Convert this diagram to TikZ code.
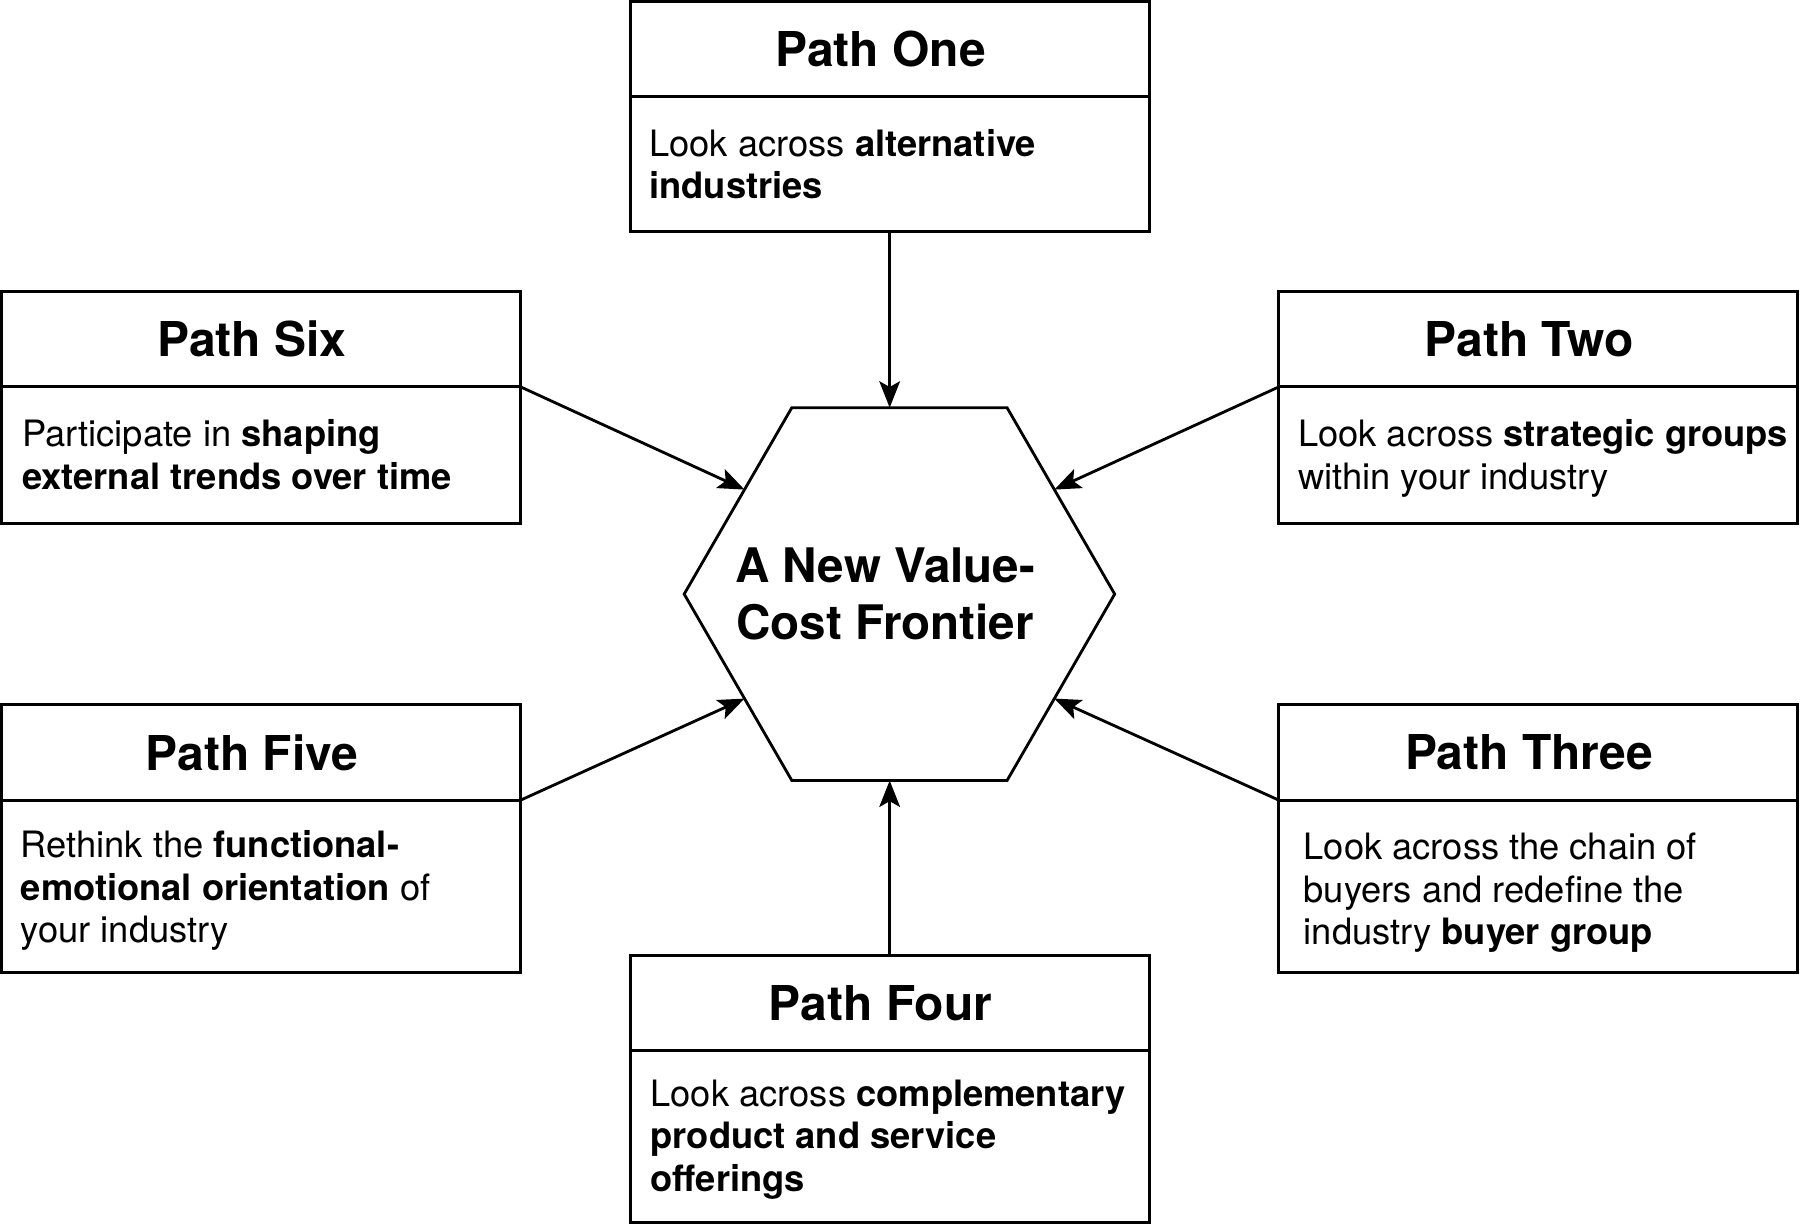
\documentclass[tikz,border=0pt]{standalone}
\usepackage{fontspec}
\setmainfont{TeX Gyre Heros}
\usetikzlibrary{arrows.meta,shapes.geometric,positioning}
\tikzset{
  pathhead/.style={draw,line width=0.7pt,outer sep=0pt,inner sep=0pt,minimum width=4.52cm,minimum height=0.83cm,font=\fontsize{11.9}{14}\selectfont\bfseries,execute at begin node={\hspace*{-0.16cm}}},
  pathbody/.style={draw,line width=0.7pt,outer sep=0pt,inner sep=0pt,minimum width=4.52cm},
  pathtext/.style={anchor=north west,inner sep=0pt,align=left,font=\fontsize{9}{10.5}\selectfont},
  toarr/.style={line width=0.7pt,-{Stealth[length=2.3mm,width=1.8mm,inset=0.5mm]}}
}

\begin{document}
\begin{tikzpicture}
  \useasboundingbox (0,0) rectangle (15.68,-10.67);
  \node[regular polygon,regular polygon sides=6,minimum size=3.75cm,draw,line width=0.7pt,outer sep=0pt,inner sep=0pt] (frontier) at (7.835,-5.175) {};
  \node[align=center,inner sep=0pt,font=\fontsize{11.8}{14.2}\selectfont\bfseries] (frontiertext) at (7.71,-5.175) {A New Value-\\Cost Frontier};

  \node[pathhead] (onehead) at (7.75,-0.425) {Path One};
  \node[pathbody,minimum height=1.18cm,below=0pt of onehead] (onebody) {};
  \node[pathtext] (onetext) at ([xshift=0.16cm,yshift=-0.28cm]onebody.north west) {Look across \textbf{alternative}\\\textbf{industries}};

  \node[pathhead] (twohead) at (13.40,-2.955) {Path Two};
  \node[pathbody,minimum height=1.19cm,below=0pt of twohead] (twobody) {};
  \node[pathtext] (twotext) at ([xshift=0.16cm,yshift=-0.28cm]twobody.north west) {Look across \textbf{strategic groups}\\within your industry};

  \node[pathhead] (threehead) at (13.40,-6.555) {Path Three};
  \node[pathbody,minimum height=1.50cm,below=0pt of threehead] (threebody) {};
  \node[pathtext] (threetext) at ([xshift=0.21cm,yshift=-0.28cm]threebody.north west) {Look across the chain of\\buyers and redefine the\\industry \textbf{buyer group}};

  \node[pathhead] (fourhead) at (7.75,-8.735) {Path Four};
  \node[pathbody,minimum height=1.50cm,below=0pt of fourhead] (fourbody) {};
  \node[pathtext] (fourtext) at ([xshift=0.17cm,yshift=-0.25cm]fourbody.north west) {Look across \textbf{complementary}\\\textbf{product and service}\\\textbf{offerings}};

  \node[pathhead] (fivehead) at (2.275,-6.555) {Path Five};
  \node[pathbody,minimum height=1.50cm,below=0pt of fivehead] (fivebody) {};
  \node[pathtext] (fivetext) at ([xshift=0.16cm,yshift=-0.26cm]fivebody.north west) {Rethink the \textbf{functional-}\\\textbf{emotional orientation} of\\your industry};

  \node[pathhead] (sixhead) at (2.275,-2.955) {Path Six};
  \node[pathbody,minimum height=1.19cm,below=0pt of sixhead] (sixbody) {};
  \node[pathtext] (sixtext) at ([xshift=0.17cm,yshift=-0.28cm]sixbody.north west) {Participate in \textbf{shaping}\\\textbf{external trends over time}};

  \draw[toarr] (onebody.south) -- (onebody.south |- frontier.corner 1);
  \draw[toarr] (twohead.south west) -- (frontier.34);
  \draw[toarr] (threehead.south west) -- (frontier.326);
  \draw[toarr] (fourhead.north) -- (fourhead.north |- frontier.corner 4);
  \draw[toarr] (fivehead.south east) -- (frontier.214);
  \draw[toarr] (sixhead.south east) -- (frontier.146);
\end{tikzpicture}
\end{document}
